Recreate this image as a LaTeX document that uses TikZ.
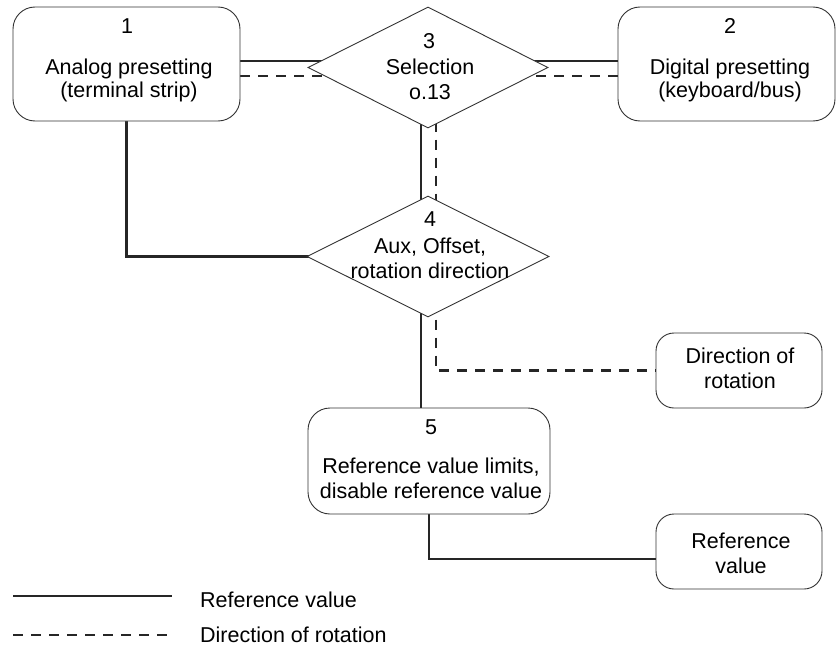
\documentclass[tikz,border=0pt]{standalone}
\usepackage{fontspec}
\setmainfont{Liberation Sans}
\usetikzlibrary{shapes.geometric}
\pgfdeclarelayer{bg}
\pgfsetlayers{bg,main}
\begin{document}
\begin{tikzpicture}[x=1pt,y=-1pt,
  box/.style={draw=black!80, line width=0.9pt, rectangle, rounded corners=22pt, fill=white, inner sep=0},
  sbox/.style={box, rounded corners=18pt},
  dia/.style={draw=black!80, line width=0.9pt, diamond, fill=white, inner sep=0, minimum width=240pt, minimum height=121pt},
  sol/.style={line width=2.6pt, draw=black!85},
  dsh/.style={line width=2.6pt, draw=black!85, dash pattern=on 10pt off 8pt},
  txt/.style={anchor=base, inner sep=0, font=\fontsize{21.5}{25}\selectfont},
  ltxt/.style={txt, anchor=base west}]
\useasboundingbox (0,0) rectangle (836,645);

% shapes
\node[box, minimum width=227pt, minimum height=114pt] (b1) at (126.5,64) {};
\node[box, minimum width=217pt, minimum height=114pt] (b2) at (726.5,64) {};
\node[dia] (d3) at (428,67.5) {};
\node[dia, minimum width=242pt] (d4) at (428,256.5) {};
\node[sbox, minimum width=166pt, minimum height=75pt] (dr) at (739,370.5) {};
\node[box, minimum width=242pt, minimum height=106pt] (b5) at (429,461) {};
\node[sbox, minimum width=166pt, minimum height=75pt] (rv) at (739,551.5) {};

% texts
\node[txt] (t1n) at (127,33) {1};
\node[txt] (t1a) at (129,74) {Analog presetting};
\node[txt] (t1b) at (129,97) {(terminal strip)};
\node[txt] (t2n) at (730,33) {2};
\node[txt] (t2a) at (730,74) {Digital presetting};
\node[txt] (t2b) at (730,97) {(keyboard/bus)};
\node[txt] (t3n) at (429,48) {3};
\node[txt] (t3a) at (430,74) {Selection};
\node[txt] (t3b) at (430,99) {o.13};
\node[txt] (t4n) at (430,226) {4};
\node[txt] (t4a) at (430,253) {Aux, Offset,};
\node[txt] (t4b) at (430,278) {rotation direction};
\node[txt] (tda) at (740,363) {Direction of};
\node[txt] (tdb) at (740,388) {rotation};
\node[txt] (t5n) at (431,434) {5};
\node[txt] (t5a) at (431,473) {Reference value limits,};
\node[txt] (t5b) at (431,498) {disable reference value};
\node[txt] (tra) at (741,548) {Reference};
\node[txt] (trb) at (741,573) {value};

% legend
\coordinate (l1a) at (13,596);
\coordinate (l1b) at (172,596);
\coordinate (l2a) at (13,635);
\coordinate (l2b) at (172,635);
\draw[sol] (l1a) -- (l1b);
\draw[dsh] (l2a) -- (l2b);
\node[ltxt] (lt1) at (200,607) {Reference value};
\node[ltxt] (lt2) at (200,642) {Direction of rotation};

% connectors
\begin{pgfonlayer}{bg}
\draw[sol] ([yshift=3pt]b1.east) -- ([yshift=3pt]b1.east -| d3.center);
\draw[dsh] ([yshift=-12pt]b1.east) -- ([yshift=-12pt]b1.east -| d3.center);
\draw[sol] ([yshift=3pt]b2.west) -- ([yshift=3pt]b2.west -| d3.center);
\draw[dsh] ([yshift=-12pt]b2.west) -- ([yshift=-12pt]b2.west -| d3.center);
\draw[sol] ([xshift=-7pt]d3.center) -- ([xshift=-7pt]d3.center |- b5.north);
\draw[dsh] ([xshift=8pt]d3.center) |- (dr.west);
\draw[sol] (b1.south) |- (d4.center);
\draw[sol] (b5.south) |- ([yshift=-7.5pt]rv.west);
\end{pgfonlayer}
\end{tikzpicture}
\end{document}
